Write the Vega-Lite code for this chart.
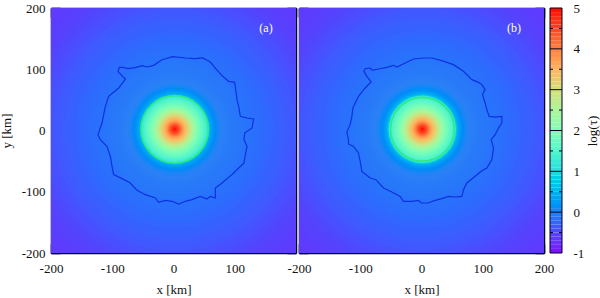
{"$schema":"https://vega.github.io/schema/vega-lite/v6.json","background":"white","padding":{"left":0,"top":2,"right":0,"bottom":0},"bounds":"flush","spacing":3,
"config":{"font":"Liberation Serif","axis":{"grid":false,"labelFont":"Liberation Serif","titleFont":"Liberation Serif","labelFontSize":13,"titleFontSize":13,"labelColor":"#111","titleColor":"#111","titleFontWeight":"normal","tickColor":"#000020","domainColor":"#000020","zindex":1,"labelExpr":"''+datum.value"},"view":{"stroke":null}},
"datasets":{
"rings":[{"r":310,"v":-0.62},{"r":290,"v":-0.6},{"r":280,"v":-0.58},{"r":270,"v":-0.55},{"r":260,"v":-0.52},{"r":250,"v":-0.49},{"r":240,"v":-0.46},{"r":230,"v":-0.43},{"r":220,"v":-0.4},{"r":210,"v":-0.37},{"r":200,"v":-0.34},{"r":190,"v":-0.31},{"r":180,"v":-0.28},{"r":170,"v":-0.25},{"r":160,"v":-0.22},{"r":150,"v":-0.19},{"r":140,"v":-0.16},{"r":130,"v":-0.13},{"r":120,"v":-0.1},{"r":115,"v":-0.09},{"r":110,"v":-0.08},{"r":105,"v":-0.07},{"r":100,"v":-0.06},{"r":95,"v":-0.04},{"r":90,"v":-0.02},{"r":85,"v":0},{"r":80,"v":0.03},{"r":75,"v":0.06},{"r":72,"v":0.09},{"r":70,"v":0.12},{"r":68,"v":0.17},{"r":66,"v":0.24},{"r":64,"v":0.33},{"r":62,"v":0.45},{"r":60,"v":0.75},{"r":58,"v":1.15},{"r":57,"v":1.3},{"r":54,"v":1.42},{"r":51,"v":1.55},{"r":48,"v":1.68},{"r":45,"v":1.8},{"r":42,"v":1.93},{"r":39,"v":2.08},{"r":36,"v":2.28},{"r":33,"v":2.48},{"r":30,"v":2.7},{"r":27,"v":2.92},{"r":24,"v":3.15},{"r":21,"v":3.38},{"r":18,"v":3.58},{"r":15,"v":3.8},{"r":12,"v":4.08},{"r":10,"v":4.28},{"r":8,"v":4.45},{"r":6,"v":4.62},{"r":4,"v":4.8},{"r":2,"v":4.95}],
"contourA":[{"i":0,"x":-74.3,"y":101},{"i":1,"x":-83,"y":103},{"i":2,"x":-88.4,"y":103},{"i":3,"x":-90.6,"y":96},{"i":4,"x":-78.6,"y":84},{"i":5,"x":-89.5,"y":69.4},{"i":6,"x":-105.9,"y":55.8},{"i":7,"x":-111.3,"y":39.5},{"i":8,"x":-116.7,"y":12.2},{"i":9,"x":-123.3,"y":-6.8},{"i":10,"x":-119.5,"y":-15},{"i":11,"x":-108.6,"y":-25.9},{"i":12,"x":-103.1,"y":-42.2},{"i":13,"x":-100.4,"y":-58.5},{"i":14,"x":-97.7,"y":-72.1},{"i":15,"x":-84.1,"y":-78.6},{"i":16,"x":-70.5,"y":-85.7},{"i":17,"x":-59.6,"y":-97.7},{"i":18,"x":-46,"y":-104.8},{"i":19,"x":-29.7,"y":-110.2},{"i":20,"x":-24.2,"y":-117.3},{"i":21,"x":-13.3,"y":-114},{"i":22,"x":-2.4,"y":-115.6},{"i":23,"x":8.4,"y":-120},{"i":24,"x":19.3,"y":-115.6},{"i":25,"x":30.2,"y":-112.9},{"i":26,"x":43.8,"y":-107.5},{"i":27,"x":54.7,"y":-111.8},{"i":28,"x":60.1,"y":-107.5},{"i":29,"x":68.3,"y":-110.2},{"i":30,"x":68.3,"y":-93.9},{"i":31,"x":79.2,"y":-85.7},{"i":32,"x":95.5,"y":-72.1},{"i":33,"x":106.4,"y":-61.2},{"i":34,"x":115.1,"y":-53.1},{"i":35,"x":117.3,"y":-39.5},{"i":36,"x":120,"y":-25.9},{"i":37,"x":115.1,"y":-15},{"i":38,"x":116.2,"y":-4.1},{"i":39,"x":128.2,"y":4.1},{"i":40,"x":130.9,"y":18.8},{"i":41,"x":120,"y":20.4},{"i":42,"x":109.1,"y":23.1},{"i":43,"x":106.4,"y":39.5},{"i":44,"x":103.7,"y":50.3},{"i":45,"x":102,"y":63.9},{"i":46,"x":99.9,"y":78.6},{"i":47,"x":90.1,"y":80.3},{"i":48,"x":79.2,"y":89.5},{"i":49,"x":68.3,"y":102},{"i":50,"x":60.1,"y":111.8},{"i":51,"x":47.6,"y":118.4},{"i":52,"x":35.6,"y":117.3},{"i":53,"x":19.3,"y":118.4},{"i":54,"x":-1.4,"y":120.5},{"i":55,"x":-18.8,"y":115.6},{"i":56,"x":-32.4,"y":106.4},{"i":57,"x":-43.3,"y":103.7},{"i":58,"x":-51.4,"y":105.9},{"i":59,"x":-62.3,"y":102.6},{"i":60,"x":-74.3,"y":101}],
"contourB":[{"i":0,"x":-92,"y":101},{"i":1,"x":-83.8,"y":102},{"i":2,"x":-80,"y":98.2},{"i":3,"x":-70.2,"y":100.4},{"i":4,"x":-56.6,"y":103.1},{"i":5,"x":-45.7,"y":106.4},{"i":6,"x":-40.3,"y":103.7},{"i":7,"x":-26.7,"y":110.2},{"i":8,"x":-13.1,"y":116.7},{"i":9,"x":3.3,"y":118.4},{"i":10,"x":16.9,"y":118.4},{"i":11,"x":33.2,"y":114},{"i":12,"x":52.2,"y":107.5},{"i":13,"x":68.6,"y":96.6},{"i":14,"x":82.2,"y":83},{"i":15,"x":93.1,"y":78.6},{"i":16,"x":98.5,"y":74.8},{"i":17,"x":103.9,"y":66.7},{"i":18,"x":99.6,"y":58.5},{"i":19,"x":103.9,"y":44.9},{"i":20,"x":106.7,"y":34},{"i":21,"x":110.5,"y":23.1},{"i":22,"x":120.3,"y":22},{"i":23,"x":131.2,"y":23.1},{"i":24,"x":131.2,"y":12.2},{"i":25,"x":125.7,"y":4.1},{"i":26,"x":120.3,"y":-6.8},{"i":27,"x":113.7,"y":-15},{"i":28,"x":117.6,"y":-28.6},{"i":29,"x":114.8,"y":-47.6},{"i":30,"x":106.7,"y":-61.2},{"i":31,"x":97.4,"y":-66.7},{"i":32,"x":87.6,"y":-74.8},{"i":33,"x":74,"y":-85.7},{"i":34,"x":68.6,"y":-96.6},{"i":35,"x":65.9,"y":-107.5},{"i":36,"x":55,"y":-108.6},{"i":37,"x":44.1,"y":-107.5},{"i":38,"x":33.2,"y":-111.3},{"i":39,"x":22.3,"y":-114},{"i":40,"x":10.3,"y":-118.4},{"i":41,"x":-0.5,"y":-118.4},{"i":42,"x":-4.9,"y":-114},{"i":43,"x":-15.8,"y":-115.6},{"i":44,"x":-29.4,"y":-115.6},{"i":45,"x":-34.8,"y":-107.5},{"i":46,"x":-48.4,"y":-100.4},{"i":47,"x":-62,"y":-93.9},{"i":48,"x":-74.6,"y":-80.3},{"i":49,"x":-83.8,"y":-77.6},{"i":50,"x":-97.4,"y":-66.7},{"i":51,"x":-100.1,"y":-50.3},{"i":52,"x":-102.9,"y":-36.7},{"i":53,"x":-111,"y":-25.9},{"i":54,"x":-119.2,"y":-22},{"i":55,"x":-119.2,"y":-15},{"i":56,"x":-121.9,"y":-2.4},{"i":57,"x":-116.5,"y":9.5},{"i":58,"x":-113.7,"y":23.1},{"i":59,"x":-112.1,"y":36.7},{"i":60,"x":-102.9,"y":55.8},{"i":61,"x":-92,"y":69.4},{"i":62,"x":-82.2,"y":79.2},{"i":63,"x":-89.3,"y":88.4},{"i":64,"x":-94.1,"y":96.6},{"i":65,"x":-92,"y":101}],
"bar":[{"a":-1,"b":-0.9,"m":-0.95},{"a":-0.9,"b":-0.8,"m":-0.85},{"a":-0.8,"b":-0.7,"m":-0.75},{"a":-0.7,"b":-0.6,"m":-0.65},{"a":-0.6,"b":-0.5,"m":-0.55},{"a":-0.5,"b":-0.4,"m":-0.45},{"a":-0.4,"b":-0.3,"m":-0.35},{"a":-0.3,"b":-0.2,"m":-0.25},{"a":-0.2,"b":-0.1,"m":-0.15},{"a":-0.1,"b":0,"m":-0.05},{"a":0,"b":0.1,"m":0.05},{"a":0.1,"b":0.2,"m":0.15},{"a":0.2,"b":0.3,"m":0.25},{"a":0.3,"b":0.4,"m":0.35},{"a":0.4,"b":0.5,"m":0.45},{"a":0.5,"b":0.6,"m":0.55},{"a":0.6,"b":0.7,"m":0.65},{"a":0.7,"b":0.8,"m":0.75},{"a":0.8,"b":0.9,"m":0.85},{"a":0.9,"b":1,"m":0.95},{"a":1,"b":1.1,"m":1.05},{"a":1.1,"b":1.2,"m":1.15},{"a":1.2,"b":1.3,"m":1.25},{"a":1.3,"b":1.4,"m":1.35},{"a":1.4,"b":1.5,"m":1.45},{"a":1.5,"b":1.6,"m":1.55},{"a":1.6,"b":1.7,"m":1.65},{"a":1.7,"b":1.8,"m":1.75},{"a":1.8,"b":1.9,"m":1.85},{"a":1.9,"b":2,"m":1.95},{"a":2,"b":2.1,"m":2.05},{"a":2.1,"b":2.2,"m":2.15},{"a":2.2,"b":2.3,"m":2.25},{"a":2.3,"b":2.4,"m":2.35},{"a":2.4,"b":2.5,"m":2.45},{"a":2.5,"b":2.6,"m":2.55},{"a":2.6,"b":2.7,"m":2.65},{"a":2.7,"b":2.8,"m":2.75},{"a":2.8,"b":2.9,"m":2.85},{"a":2.9,"b":3,"m":2.95},{"a":3,"b":3.1,"m":3.05},{"a":3.1,"b":3.2,"m":3.15},{"a":3.2,"b":3.3,"m":3.25},{"a":3.3,"b":3.4,"m":3.35},{"a":3.4,"b":3.5,"m":3.45},{"a":3.5,"b":3.6,"m":3.55},{"a":3.6,"b":3.7,"m":3.65},{"a":3.7,"b":3.8,"m":3.75},{"a":3.8,"b":3.9,"m":3.85},{"a":3.9,"b":4,"m":3.95},{"a":4,"b":4.1,"m":4.05},{"a":4.1,"b":4.2,"m":4.15},{"a":4.2,"b":4.3,"m":4.25},{"a":4.3,"b":4.4,"m":4.35},{"a":4.4,"b":4.5,"m":4.45},{"a":4.5,"b":4.6,"m":4.55},{"a":4.6,"b":4.7,"m":4.65},{"a":4.7,"b":4.8,"m":4.75},{"a":4.8,"b":4.9,"m":4.85},{"a":4.9,"b":5,"m":4.95}]
},
"hconcat":[
{"width":245,"height":245,"resolve":{"axis":{"x":"independent","y":"independent"}},"layer":[
{"data":{"name":"rings"},"transform":[{"calculate":"2","as":"cx"},{"calculate":"2","as":"cy"}],"mark":{"type":"point","shape":"circle","filled":true,"opacity":1,"strokeWidth":0,"clip":true},"encoding":{
"x":{"field":"cx","type":"quantitative","scale":{"domain":[-200,200],"nice":false},"axis":{"orient":"bottom","values":[-200,-100,0,100],"tickSize":-9,"tickWidth":1.5,"domainWidth":1.5,"title":"x [km]","labelPadding":18,"titlePadding":8,"labelFlush":false}},
"y":{"field":"cy","type":"quantitative","scale":{"domain":[-200,200],"nice":false},"axis":{"orient":"left","values":[-200,-100,0,100,200],"tickSize":-9,"tickWidth":1.5,"domainWidth":1.5,"title":"y [km]","labelPadding":15,"titlePadding":8,"labelFlush":false}},
"size":{"field":"r","type":"quantitative","legend":null,"scale":{"type":"pow","exponent":2,"domain":[0,310],"range":[0,144210]}},
"color":{"field":"v","type":"quantitative","legend":null,"scale":{"domain":[-1,-0.5,0,0.5,1,1.5,2,2.5,3,3.5,4,4.5,5],"range":["#8000ff","#5542fd","#2b80f6","#00b4ec","#2bdddd","#55f6ca","#80ffb4","#aaf69b","#d4dd80","#ffb462","#ff8042","#ff4221","#ff0000"]}}}},
{"data":{"name":"contourA"},"mark":{"type":"line","color":"#0f30e0","strokeWidth":1.2,"interpolate":"linear"},"encoding":{"order":{"field":"i"},
"x":{"field":"x","type":"quantitative","scale":{"domain":[-200,200],"nice":false},"axis":{"orient":"bottom","values":[-150,-50,50,150],"tickSize":-4.5,"tickWidth":1,"domain":false,"labels":false,"title":null}},
"y":{"field":"y","type":"quantitative","scale":{"domain":[-200,200],"nice":false},"axis":{"orient":"left","values":[-150,-50,50,150],"tickSize":-4.5,"tickWidth":1,"domain":false,"labels":false,"title":null}}}},
{"data":{"values":[{"x":2,"y":2,"r":58}]},"mark":{"type":"point","shape":"circle","filled":false,"opacity":1,"stroke":"#32e884","strokeWidth":1.6},"encoding":{
"x":{"field":"x","type":"quantitative","scale":{"domain":[-200,200],"nice":false},"axis":{"orient":"top","values":[-200,-100,0,100,200],"tickSize":-9,"tickWidth":1.5,"domainWidth":1.5,"labels":false,"title":null}},
"y":{"field":"y","type":"quantitative","scale":{"domain":[-200,200],"nice":false},"axis":{"orient":"right","values":[-200,-100,0,100,200],"tickSize":-9,"tickWidth":1.5,"domainWidth":1.5,"labels":false,"title":null}},
"size":{"field":"r","type":"quantitative","legend":null,"scale":{"type":"pow","exponent":2,"domain":[0,310],"range":[0,144210]}}}},
{"data":{"values":[{"x":151,"y":167,"t":"(a)"}]},"mark":{"type":"text","color":"white","fontSize":12,"font":"Liberation Serif"},"encoding":{"text":{"field":"t"},
"x":{"field":"x","type":"quantitative","scale":{"domain":[-200,200],"nice":false},"axis":{"orient":"top","values":[-150,-50,50,150],"tickSize":-4.5,"tickWidth":1,"domain":false,"labels":false,"title":null}},
"y":{"field":"y","type":"quantitative","scale":{"domain":[-200,200],"nice":false},"axis":{"orient":"right","values":[-150,-50,50,150],"tickSize":-4.5,"tickWidth":1,"domain":false,"labels":false,"title":null}}}}
]},
{"width":245,"height":245,"resolve":{"axis":{"x":"independent","y":"independent"}},"layer":[
{"data":{"name":"rings"},"transform":[{"calculate":"1.4","as":"cx"},{"calculate":"2","as":"cy"}],"mark":{"type":"point","shape":"circle","filled":true,"opacity":1,"strokeWidth":0,"clip":true},"encoding":{
"x":{"field":"cx","type":"quantitative","scale":{"domain":[-200,200],"nice":false},"axis":{"orient":"bottom","values":[-200,-100,0,100,200],"tickSize":-9,"tickWidth":1.5,"domainWidth":1.5,"title":"x [km]","labelPadding":18,"titlePadding":8,"labelFlush":false}},
"y":{"field":"cy","type":"quantitative","scale":{"domain":[-200,200],"nice":false},"axis":{"orient":"left","values":[-200,-100,0,100,200],"tickSize":-9,"tickWidth":1.5,"domainWidth":1.5,"labels":false,"title":null}},
"size":{"field":"r","type":"quantitative","legend":null,"scale":{"type":"pow","exponent":2,"domain":[0,310],"range":[0,129680]}},
"color":{"field":"v","type":"quantitative","legend":null,"scale":{"domain":[-1,-0.5,0,0.5,1,1.5,2,2.5,3,3.5,4,4.5,5],"range":["#8000ff","#5542fd","#2b80f6","#00b4ec","#2bdddd","#55f6ca","#80ffb4","#aaf69b","#d4dd80","#ffb462","#ff8042","#ff4221","#ff0000"]}}}},
{"data":{"name":"contourB"},"mark":{"type":"line","color":"#0f30e0","strokeWidth":1.2,"interpolate":"linear"},"encoding":{"order":{"field":"i"},
"x":{"field":"x","type":"quantitative","scale":{"domain":[-200,200],"nice":false},"axis":{"orient":"bottom","values":[-150,-50,50,150],"tickSize":-4.5,"tickWidth":1,"domain":false,"labels":false,"title":null}},
"y":{"field":"y","type":"quantitative","scale":{"domain":[-200,200],"nice":false},"axis":{"orient":"left","values":[-150,-50,50,150],"tickSize":-4.5,"tickWidth":1,"domain":false,"labels":false,"title":null}}}},
{"data":{"values":[{"x":1.4,"y":2,"r":55}]},"mark":{"type":"point","shape":"circle","filled":false,"opacity":1,"stroke":"#32e884","strokeWidth":1.6},"encoding":{
"x":{"field":"x","type":"quantitative","scale":{"domain":[-200,200],"nice":false},"axis":{"orient":"top","values":[-200,-100,0,100,200],"tickSize":-9,"tickWidth":1.5,"domainWidth":1.5,"labels":false,"title":null}},
"y":{"field":"y","type":"quantitative","scale":{"domain":[-200,200],"nice":false},"axis":{"orient":"right","values":[-200,-100,0,100,200],"tickSize":-9,"tickWidth":1.5,"domainWidth":1.5,"labels":false,"title":null}},
"size":{"field":"r","type":"quantitative","legend":null,"scale":{"type":"pow","exponent":2,"domain":[0,326.9],"range":[0,144210]}}}},
{"data":{"values":[{"x":151,"y":167,"t":"(b)"}]},"mark":{"type":"text","color":"white","fontSize":12,"font":"Liberation Serif"},"encoding":{"text":{"field":"t"},
"x":{"field":"x","type":"quantitative","scale":{"domain":[-200,200],"nice":false},"axis":{"orient":"top","values":[-150,-50,50,150],"tickSize":-4.5,"tickWidth":1,"domain":false,"labels":false,"title":null}},
"y":{"field":"y","type":"quantitative","scale":{"domain":[-200,200],"nice":false},"axis":{"orient":"right","values":[-150,-50,50,150],"tickSize":-4.5,"tickWidth":1,"domain":false,"labels":false,"title":null}}}}
]},
{"width":15,"height":245,"layer":[
{"data":{"name":"bar"},"mark":{"type":"rect"},"encoding":{
"x":{"datum":0.2,"type":"quantitative","scale":{"domain":[0,1],"nice":false},"axis":null},
"x2":{"datum":1},
"y":{"field":"a","type":"quantitative","scale":{"domain":[-1,5],"nice":false},"axis":{"orient":"right","values":[-1,0,1,2,3,4,5],"tickSize":0,"domain":false,"labelPadding":11,"title":"log(τ)","titlePadding":3,"titleAngle":270,"titleBaseline":"top","labelFlush":false}},
"y2":{"field":"b"},
"color":{"field":"m","type":"quantitative","legend":null,"scale":{"domain":[-1,-0.5,0,0.5,1,1.5,2,2.5,3,3.5,4,4.5,5],"range":["#8000ff","#5542fd","#2b80f6","#00b4ec","#2bdddd","#55f6ca","#80ffb4","#aaf69b","#d4dd80","#ffb462","#ff8042","#ff4221","#ff0000"]}}}},
{"data":{"values":[{"v":0},{"v":1},{"v":2},{"v":3},{"v":4}]},"mark":{"type":"rule","color":"#000020","strokeWidth":1},"encoding":{"x":{"datum":0.2,"type":"quantitative"},"x2":{"datum":1},"y":{"field":"v","type":"quantitative"}}},
{"data":{"values":[{"v":-0.5},{"v":0.5},{"v":1.5},{"v":2.5},{"v":3.5},{"v":4.5}]},"mark":{"type":"rule","color":"#000020","strokeWidth":1,"strokeDash":[3,6,3]},"encoding":{"x":{"datum":0.2,"type":"quantitative"},"x2":{"datum":1},"y":{"field":"v","type":"quantitative"}}},
{"data":{"values":[{"lo":-1,"hi":5}]},"mark":{"type":"rect","filled":false,"stroke":"#000020","strokeWidth":1},"encoding":{"x":{"datum":0.2,"type":"quantitative"},"x2":{"datum":1},"y":{"field":"lo","type":"quantitative"},"y2":{"field":"hi"}}}
]}
]}
